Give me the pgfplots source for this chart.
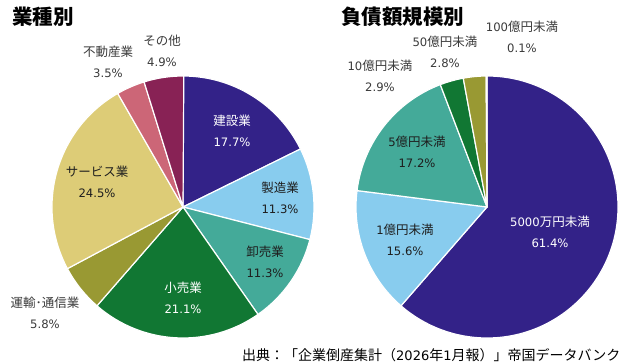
\documentclass[border=0pt]{standalone}
\usepackage{pgfplots}
\pgfplotsset{compat=1.18}
\usepackage{fontspec}
\setmainfont{Noto Sans CJK JP}
\newfontfamily\lat{DejaVu Sans}[Scale=0.93]
\newcommand\n[1]{{\lat #1}}
\definecolor{cIndigo}{HTML}{332288}
\definecolor{cCyan}{HTML}{88CCEE}
\definecolor{cTeal}{HTML}{44AA99}
\definecolor{cGreen}{HTML}{117733}
\definecolor{cOlive}{HTML}{999933}
\definecolor{cSand}{HTML}{DDCC77}
\definecolor{cRose}{HTML}{CC6677}
\definecolor{cWine}{HTML}{882255}
\definecolor{txtIn}{HTML}{1E1E1E}
\definecolor{txtOut}{HTML}{3A3A3A}
\newcommand\pie[3]{%
  \gdef\curang{90}%
  \foreach \v/\c in {#3} {%
    \pgfmathsetmacro\endang{\curang-3.6*\v}%
    \filldraw[fill=\c, draw=white, line width=1.2pt, line join=round]
      (axis cs:#1,#2) -- ++(\curang:131bp) arc[start angle=\curang, end angle=\endang, radius=131bp] -- cycle;
    \xdef\curang{\endang}%
  }}
\tikzset{lab/.style={align=center, font=\fontsize{12.5bp}{20.5bp}\selectfont, inner sep=0pt}}
\begin{document}
\begin{tikzpicture}
\begin{axis}[at={(0,0)}, anchor=south west, width=640bp, height=364bp, scale only axis,
  xmin=0, xmax=640, ymin=0, ymax=364, hide axis, clip=false]
\pgfplotsextra{%
  % 業種別: 建設業, 製造業, 卸売業, 小売業, 運輸・通信業, サービス業, 不動産業, その他
  \pie{183}{157}{17.7/cIndigo, 11.3/cCyan, 11.3/cTeal, 21.1/cGreen, 5.8/cOlive, 24.5/cSand, 3.5/cRose, 4.9/cWine}
  % 負債額規模別: 5000万円未満, 1億円未満, 5億円未満, 10億円未満, 50億円未満, 100億円未満
  \pie{487}{157}{61.4/cIndigo, 15.6/cCyan, 17.2/cTeal, 2.9/cGreen, 2.8/cOlive, 0.1/cSand}
}
% titles
\node[anchor=west, inner sep=0pt, font=\fontsize{20.5bp}{24bp}\selectfont\bfseries] at (axis cs:12,347) {業種別};
\node[anchor=west, inner sep=0pt, font=\fontsize{20.5bp}{24bp}\selectfont\bfseries] at (axis cs:341,347) {負債額規模別};
% left labels
\node[lab, text=white] at (axis cs:232,233) {建設業\\\n{17.7\%}};
\node[lab, text=txtIn] at (axis cs:280,166) {製造業\\\n{11.3\%}};
\node[lab, text=txtIn] at (axis cs:265,102) {卸売業\\\n{11.3\%}};
\node[lab, text=white] at (axis cs:183,66) {小売業\\\n{21.1\%}};
\node[lab, text=txtOut] at (axis cs:45,51) {運輸･通信業\\\n{5.8\%}};
\node[lab, text=txtIn] at (axis cs:97,182) {サービス業\\\n{24.5\%}};
\node[lab, text=txtOut] at (axis cs:108,302) {不動産業\\\n{3.5\%}};
\node[lab, text=txtOut] at (axis cs:162,313) {その他\\\n{4.9\%}};
% right labels
\node[lab, text=txtOut] at (axis cs:522,327) {\n{100}億円未満\\\n{0.1\%}};
\node[lab, text=txtOut] at (axis cs:445,312) {\n{50}億円未満\\\n{2.8\%}};
\node[lab, text=txtOut] at (axis cs:380,288) {\n{10}億円未満\\\n{2.9\%}};
\node[lab, text=txtIn] at (axis cs:417,212) {\n{5}億円未満\\\n{17.2\%}};
\node[lab, text=txtIn] at (axis cs:405,124) {\n{1}億円未満\\\n{15.6\%}};
\node[lab, text=white] at (axis cs:550,132) {\n{5000}万円未満\\\n{61.4\%}};
% source
\node[anchor=west, inner sep=0pt, font=\fontsize{14bp}{17bp}\selectfont] at (axis cs:242,9) {出典：「企業倒産集計（\n{2026}年\n{1}月報）」帝国データバンク};
\end{axis}
\pgfresetboundingbox
\useasboundingbox (0,0) rectangle (640bp,364bp);
\end{tikzpicture}
\end{document}
